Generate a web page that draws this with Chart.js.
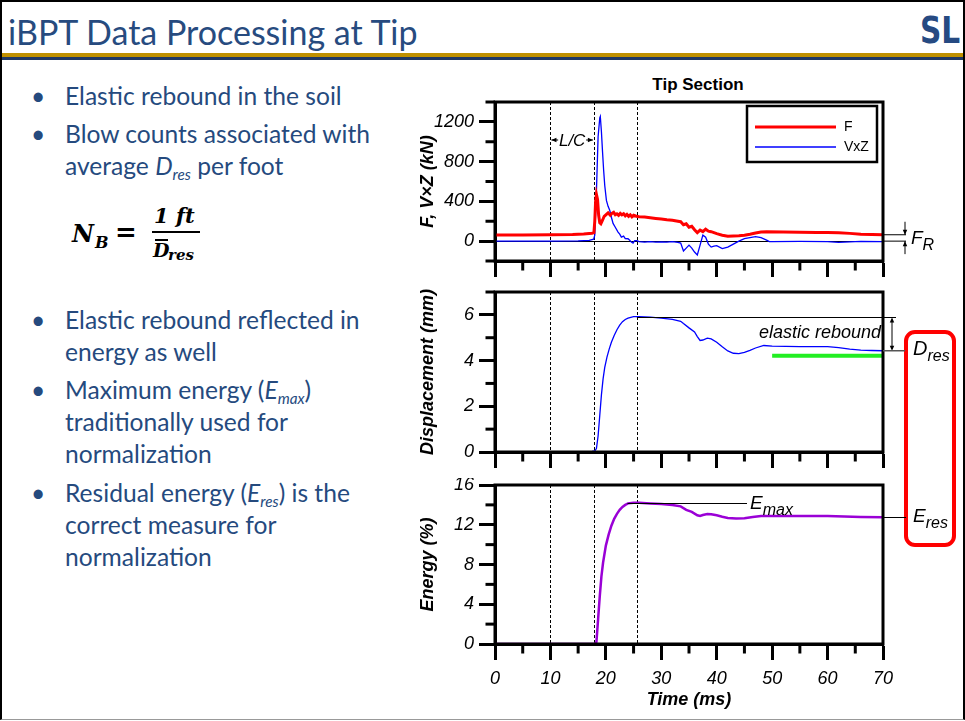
<!DOCTYPE html>
<html>
<head>
<meta charset="utf-8">
<script src="https://cdn.jsdelivr.net/npm/chart.js@4.4.1/dist/chart.umd.min.js"></script>
<style>
  body { margin: 0; width: 965px; height: 721px; background: #fff; overflow: hidden; position: relative; }
  #frame { position: absolute; left: 0; top: 0; width: 965px; height: 720px; box-sizing: border-box;
           border: 2px solid #000; border-bottom: 1px solid #999; }
  #title { position: absolute; left: 8px; top: 11px; font-family: Lato, sans-serif; font-size: 34px;
           color: #274B7F; white-space: nowrap; }
  #gold { position: absolute; left: 2px; top: 53px; width: 961px; height: 4px; background: #BF9000; }
  #navy { position: absolute; left: 2px; top: 57px; width: 961px; height: 3px; background: #1F3864; }
  #logo { position: absolute; left: 920px; top: 8px; font-family: "DejaVu Sans", sans-serif; font-weight: bold;
          font-size: 38px; color: #264A82; transform: scaleX(0.78); transform-origin: left top; }
  .b { position: absolute; left: 65px; font-family: Lato, sans-serif; font-size: 24.6px; line-height: 32px;
       color: #254A7E; white-space: nowrap; }
  .b .dot { position: absolute; left: -34px; }
  .b sub { font-size: 62%; vertical-align: -0.3em; line-height: 0; }
  .m { position: absolute; font-family: "DejaVu Serif", serif; font-weight: bold; font-style: italic;
       color: #000; line-height: 1; white-space: nowrap; }
  #tipTitle { position: absolute; left: 618px; width: 160px; top: 75px; text-align: center;
              font-family: "Liberation Sans", Arial, sans-serif; font-weight: bold; font-size: 17px; color: #000; }
  #redBox { position: absolute; left: 904px; top: 330px; width: 52px; height: 217px; box-sizing: border-box;
            border: 4px solid #FF0000; border-radius: 11px; }
  canvas { position: absolute; left: 416px; }
</style>
</head>
<body>
<div id="frame"></div>
<div id="title">iBPT Data Processing at Tip</div>
<div id="gold"></div>
<div id="navy"></div>
<div id="logo">SL</div>

<div class="b" style="top:80px"><span class="dot">•</span>Elastic rebound in the soil</div>
<div class="b" style="top:118px"><span class="dot">•</span>Blow counts associated with<br>average <i>D</i><sub><i>res</i></sub> per foot</div>

<span class="m" style="left:72px; top:222px; font-size:24px">N</span>
<span class="m" style="left:95px; top:235px; font-size:16px">B</span>
<span class="m" style="left:115px; top:219px; font-size:26px; font-style:normal">=</span>
<span class="m" style="left:154px; top:205px; font-size:21px">1 ft</span>
<div style="position:absolute; left:152px; top:231px; width:48px; height:1.5px; background:#000"></div>
<div style="position:absolute; left:155px; top:239px; width:13px; height:1.5px; background:#000"></div>
<span class="m" style="left:153px; top:241px; font-size:19px">D</span>
<span class="m" style="left:168px; top:248px; font-size:15px">res</span>

<div class="b" style="top:304px"><span class="dot">•</span>Elastic rebound reflected in<br>energy as well</div>
<div class="b" style="top:374px"><span class="dot">•</span>Maximum energy (<i>E</i><sub><i>max</i></sub>)<br>traditionally used for<br>normalization</div>
<div class="b" style="top:477px"><span class="dot">•</span>Residual energy (<i>E</i><sub><i>res</i></sub>) is the<br>correct measure for<br>normalization</div>

<div id="redBox"></div>
<div id="tipTitle">Tip Section</div>

<canvas id="forceChart" width="549" height="186" style="top:95px"></canvas>
<canvas id="dispChart" width="549" height="187" style="top:285px"></canvas>
<canvas id="energyChart" width="549" height="243" style="top:478px"></canvas>

<script>
// ---- shared axis values ----
const xTicks = [0, 10, 20, 30, 40, 50, 60, 70];
const xMinor = [5, 15, 25, 35, 45, 55, 65];
const markTimes = [10, 17.84, 25.6];   // dashed vertical lines (ms)

// ---- Force / VxZ (kN) ----
const fTicks = [0, 400, 800, 1200];
const fMinor = [-200, 200, 600, 1000, 1400];
const tF = [0,5,10,14,16,17.5,17.85,18.0,18.15,18.3,18.5,18.7,18.9,19.1,19.4,19.7,20.0,20.4,20.8,21.1,
            21.4,21.7,22.0,22.3,22.6,22.9,23.2,23.5,23.8,24.1,24.4,24.7,25.0,25.5,26,27,28,29,30,31,
            32,33,33.5,34,34.5,35,35.5,36,36.5,37,37.5,38,38.5,39,40,41,42,43,44,45,
            46,47,48,49,52,55,58,60,62,64,66,68,70];
const fVals = [62,62,63,66,72,80,85,200,400,470,420,260,185,175,210,250,265,285,260,280,
               290,265,275,260,280,265,275,255,270,250,265,245,260,250,245,242,235,228,222,215,
               210,200,195,165,175,140,150,115,85,110,95,120,100,95,75,60,50,52,55,60,
               70,82,92,95,92,90,88,88,85,78,70,66,64];
const tV = [0,10,15,17,17.8,18.0,18.3,18.6,18.9,19.0,19.2,19.4,19.6,19.8,20.1,20.4,20.7,21.0,21.3,21.7,
            22.2,22.5,22.8,23.2,23.5,24.0,24.3,24.6,24.9,25.2,25.6,26,27,28,29,30,31,32,33,33.5,
            34,34.5,35,35.5,36,36.5,37,37.5,38,38.5,39,39.5,40,41,42,43,44,45,46,47,
            48,49,49.5,50,55,60,62,64,66,70];
const vzVals = [0,0,2,8,20,60,500,1050,1240,1255,1100,900,713,560,410,350,310,240,178,140,
                91,70,40,50,25,24,10,-10,-20,5,5,-5,-10,-5,-10,-8,-10,-5,-12,-20,
                -100,-70,-40,-70,-110,-140,-40,60,40,-30,-60,-50,-45,-75,-60,-30,0,25,35,45,
                35,10,-5,-5,-3,-5,-12,-8,-3,-5];
const fR = 64;

// ---- Displacement (mm) ----
const dTicks = [0, 2, 4, 6];
const dMinor = [1, 3, 5, 7];
const tD = [0,10,15,17.5,18.0,18.3,18.6,18.9,19.2,19.5,19.8,20.2,20.6,21.0,21.5,22.0,22.5,23.0,23.5,24.0,
            25,26,28,30,32,33.5,34,35,36,36.5,37,37.5,38.3,39,40,41,42,43,44,45,
            46,47,48.5,50,55,60,62,64,66,68,70];
const dispVals = [0,0.01,0.02,0.03,0.05,0.15,0.7,1.6,2.5,3.2,3.7,4.15,4.5,4.8,5.1,5.35,5.55,5.7,5.8,5.86,
                  5.92,5.92,5.9,5.86,5.8,5.72,5.62,5.43,5.25,5.05,4.88,4.9,4.98,4.95,4.8,4.6,4.42,4.32,4.3,4.36,
                  4.45,4.55,4.66,4.63,4.61,4.61,4.57,4.5,4.46,4.44,4.43];
const tGreen = [50, 70];
const greenVals = [4.21, 4.21];
const dMax = 5.92;
const dRes = 4.43;

// ---- Energy (%) ----
const eTicks = [0, 4, 8, 12, 16];
const eMinor = [2, 6, 10, 14];
const tE = [0,17,18.0,18.3,18.6,18.9,19.2,19.5,20.0,20.5,21,21.5,22,22.5,23,23.5,24,25,26,28,
            30,32,33.5,34.5,35.5,36.5,37,37.5,38.3,39,40,41,42,43.5,45,46.5,48,50,55,60,
            63,66,70];
const energyVals = [0,0,0.02,0.2,2.5,4.8,6.8,8.2,9.9,11.0,11.9,12.6,13.1,13.5,13.8,14.0,14.15,14.22,14.22,14.15,
                    14.08,13.98,13.85,13.5,13.3,12.95,12.88,12.98,13.08,13.05,12.95,12.8,12.68,12.62,12.66,12.78,12.88,12.88,12.87,12.88,
                    12.82,12.77,12.75];
const eMaxTime = 23.9;
const eMax = 14.22;
const eRes = 12.75;

// ---- helpers ----
const FONT = '"Liberation Sans", Arial, sans-serif';
const tickFont = { family: FONT, size: 18, style: 'italic' };
const titleFont = { family: FONT, size: 18, style: 'italic', weight: 'bold' };
const pts = (xs, ys) => xs.map((t, i) => ({ x: t, y: ys[i] }));

function line(ctx, x1, y1, x2, y2) {
  ctx.beginPath(); ctx.moveTo(x1, y1); ctx.lineTo(x2, y2); ctx.stroke();
}
function arrowHead(ctx, x, y, dx, dy, size) {
  const px = -dy, py = dx;
  ctx.beginPath();
  ctx.moveTo(x, y);
  ctx.lineTo(x - dx * size + px * size * 0.45, y - dy * size + py * size * 0.45);
  ctx.lineTo(x - dx * size - px * size * 0.45, y - dy * size - py * size * 0.45);
  ctx.closePath(); ctx.fill();
}
function subLabel(ctx, main, sub, x, y, size) {
  ctx.textAlign = 'left'; ctx.textBaseline = 'alphabetic';
  ctx.font = `italic ${size}px ${FONT}`;
  ctx.fillText(main, x, y);
  const w = ctx.measureText(main).width;
  ctx.font = `italic ${Math.round(size * 0.82)}px ${FONT}`;
  ctx.fillText(sub, x + w, y + size * 0.3);
}

function xScale(showLabels, h) {
  return {
    type: 'linear', min: 0, max: 70,
    afterBuildTicks: s => { s.ticks = xTicks.map(v => ({ value: v })); },
    afterFit: s => { s.height = h; s.paddingLeft = 0; s.paddingRight = 0; },
    grid: { drawOnChartArea: false, tickLength: 16, tickWidth: 3, tickColor: '#000' },
    border: { color: '#000', width: 3 },
    ticks: { display: showLabels, color: '#000', font: tickFont, padding: 8, maxRotation: 0, autoSkip: false,
             callback: v => String(v) },
    title: { display: showLabels, text: 'Time (ms)', color: '#000', font: titleFont, padding: { top: 0, bottom: 10 } }
  };
}
function yScale(min, max, ticks, title) {
  return {
    type: 'linear', min: min, max: max,
    afterBuildTicks: s => { s.ticks = ticks.map(v => ({ value: v })); },
    afterFit: s => { s.width = 79; s.paddingTop = 0; s.paddingBottom = 0; },
    grid: { drawOnChartArea: false, tickLength: 16, tickWidth: 3, tickColor: '#000' },
    border: { color: '#000', width: 3 },
    ticks: { color: '#000', font: tickFont, padding: 5, autoSkip: false, callback: v => String(v) },
    title: { display: true, text: title, color: '#000', font: titleFont, padding: { top: 1, bottom: 0 } }
  };
}

// box, minor ticks and dashed time markers
function framePlugin(yMinor) {
  return {
    id: 'frame',
    beforeDatasetsDraw(chart) {
      const { ctx, chartArea: a, scales: { x } } = chart;
      ctx.save();
      ctx.strokeStyle = '#000'; ctx.lineWidth = 1; ctx.setLineDash([3, 2]);
      markTimes.forEach(t => {
        const px = Math.round(x.getPixelForValue(t)) + 0.5;
        line(ctx, px, a.top, px, a.bottom);
      });
      ctx.restore();
    },
    afterDraw(chart) {
      const { ctx, chartArea: a, scales: { x, y } } = chart;
      ctx.save();
      ctx.strokeStyle = '#000'; ctx.lineWidth = 3;
      ctx.strokeRect(a.left, a.top, a.right - a.left, a.bottom - a.top);
      xMinor.forEach(v => { const px = x.getPixelForValue(v); line(ctx, px, a.bottom, px, a.bottom + 9.5); });
      yMinor.forEach(v => { const py = y.getPixelForValue(v); line(ctx, a.left - 9.5, py, a.left, py); });
      ctx.restore();
    }
  };
}

function baseOptions(xs, ys) {
  return {
    responsive: false, animation: false, devicePixelRatio: 1,
    layout: { padding: { top: 7, right: 82, left: 0, bottom: 0 } },
    plugins: { legend: { display: false }, tooltip: { enabled: false } },
    elements: { point: { radius: 0 }, line: { tension: 0 } },
    scales: { x: xs, y: ys }
  };
}

// ---- chart 1: force ----
const forceNotes = {
  id: 'forceNotes',
  beforeDatasetsDraw(chart) {
    const { ctx, chartArea: a, scales: { y } } = chart;
    const y0 = Math.round(y.getPixelForValue(0)) + 0.5;
    ctx.save(); ctx.strokeStyle = '#000'; ctx.lineWidth = 1;
    line(ctx, a.left, y0, a.right, y0);
    ctx.restore();
  },
  afterDraw(chart) {
    const { ctx, chartArea: a, scales: { x, y } } = chart;
    ctx.save();
    ctx.strokeStyle = '#000'; ctx.fillStyle = '#000'; ctx.lineWidth = 1;
    // L/C between the first two markers
    const xa = x.getPixelForValue(markTimes[0]), xb = x.getPixelForValue(markTimes[1]);
    const yl = a.top + 38, mid = (xa + xb) / 2;
    ctx.font = `italic 17px ${FONT}`; ctx.textAlign = 'center'; ctx.textBaseline = 'middle';
    ctx.fillText('L/C', mid, yl + 1);
    line(ctx, xa + 1, yl, mid - 14, yl); arrowHead(ctx, xa + 1, yl, -1, 0, 5);
    line(ctx, mid + 14, yl, xb - 1, yl); arrowHead(ctx, xb - 1, yl, 1, 0, 5);
    // F_R
    const yF = y.getPixelForValue(fR), y0 = y.getPixelForValue(0);
    line(ctx, a.right, yF, a.right + 23, yF);
    line(ctx, a.right, y0, a.right + 23, y0);
    line(ctx, a.right + 22, yF - 13, a.right + 22, yF); arrowHead(ctx, a.right + 22, yF, 0, 1, 5);
    line(ctx, a.right + 22, y0 + 13, a.right + 22, y0); arrowHead(ctx, a.right + 22, y0, 0, -1, 5);
    subLabel(ctx, 'F', 'R', a.right + 28, y0 + 3, 19);
    // legend
    const lx = a.right - 136, ly = a.top + 4, lw = 130, lh = 56;
    ctx.lineWidth = 2.5; ctx.strokeStyle = '#000';
    ctx.strokeRect(lx, ly, lw, lh);
    chart.data.datasets.forEach((ds, i) => {
      const yy = ly + 21 + i * 20;
      ctx.strokeStyle = ds.borderColor; ctx.lineWidth = ds.borderWidth;
      line(ctx, lx + 8, yy, lx + 89, yy);
      ctx.fillStyle = '#000'; ctx.font = `14px ${FONT}`; ctx.textAlign = 'left'; ctx.textBaseline = 'middle';
      ctx.fillText(ds.label, lx + 97, yy);
    });
    ctx.restore();
  }
};

new Chart(document.getElementById('forceChart'), {
  type: 'line',
  data: { datasets: [
    { label: 'F', data: pts(tF, fVals), borderColor: '#FF0000', borderWidth: 3 },
    { label: 'VxZ', data: pts(tV, vzVals), borderColor: '#0000FF', borderWidth: 1.3 }
  ] },
  options: baseOptions(xScale(false, 20), yScale(-200, 1400, fTicks, 'F, V×Z (kN)')),
  plugins: [framePlugin(fMinor), forceNotes]
});

// ---- chart 2: displacement ----
const dispNotes = {
  id: 'dispNotes',
  afterDraw(chart) {
    const { ctx, chartArea: a, scales: { x, y } } = chart;
    const yM = Math.round(y.getPixelForValue(dMax)) + 0.5, yR = y.getPixelForValue(dRes);
    ctx.save();
    ctx.strokeStyle = '#000'; ctx.fillStyle = '#000'; ctx.lineWidth = 1;
    line(ctx, x.getPixelForValue(markTimes[2]), yM, a.right + 13, yM);
    ctx.font = `italic 18px ${FONT}`; ctx.textAlign = 'right'; ctx.textBaseline = 'middle';
    ctx.fillText('elastic rebound', a.right - 2, yM + 15);
    const ax = a.right + 9;
    line(ctx, ax, yM + 2, ax, yR - 2);
    arrowHead(ctx, ax, yM, 0, -1, 5); arrowHead(ctx, ax, yR, 0, 1, 5);
    ctx.strokeStyle = '#555'; ctx.lineWidth = 1.5;
    line(ctx, a.right, yR, a.right + 22, yR);
    ctx.fillStyle = '#000';
    subLabel(ctx, 'D', 'res', a.right + 30, yR + 4.5, 20);
    ctx.restore();
  }
};

new Chart(document.getElementById('dispChart'), {
  type: 'line',
  data: { datasets: [
    { label: 'Displacement', data: pts(tD, dispVals), borderColor: '#0000FF', borderWidth: 1.3 },
    { label: 'Dres average', data: pts(tGreen, greenVals), borderColor: '#22EE22', borderWidth: 4 }
  ] },
  options: baseOptions(xScale(false, 20), yScale(0, 7, dTicks, 'Displacement (mm)')),
  plugins: [framePlugin(dMinor), dispNotes]
});

// ---- chart 3: energy ----
const energyNotes = {
  id: 'energyNotes',
  afterDraw(chart) {
    const { ctx, chartArea: a, scales: { x, y } } = chart;
    const yE = Math.round(y.getPixelForValue(eMax)) + 0.5, yS = Math.round(y.getPixelForValue(eRes)) + 0.5;
    ctx.save();
    ctx.strokeStyle = '#000'; ctx.fillStyle = '#000'; ctx.lineWidth = 1;
    line(ctx, x.getPixelForValue(eMaxTime), yE, a.right - 136, yE);
    subLabel(ctx, 'E', 'max', a.right - 133, yE + 5.5, 19);
    line(ctx, a.right, yS, a.right + 23, yS);
    subLabel(ctx, 'E', 'res', a.right + 30, yS + 4.5, 19);
    ctx.restore();
  }
};

new Chart(document.getElementById('energyChart'), {
  type: 'line',
  data: { datasets: [
    { label: 'Energy', data: pts(tE, energyVals), borderColor: '#9A00D6', borderWidth: 2.5 }
  ] },
  options: baseOptions(xScale(true, 77), yScale(0, 16, eTicks, 'Energy (%)')),
  plugins: [framePlugin(eMinor), energyNotes]
});
</script>
</body>
</html>
